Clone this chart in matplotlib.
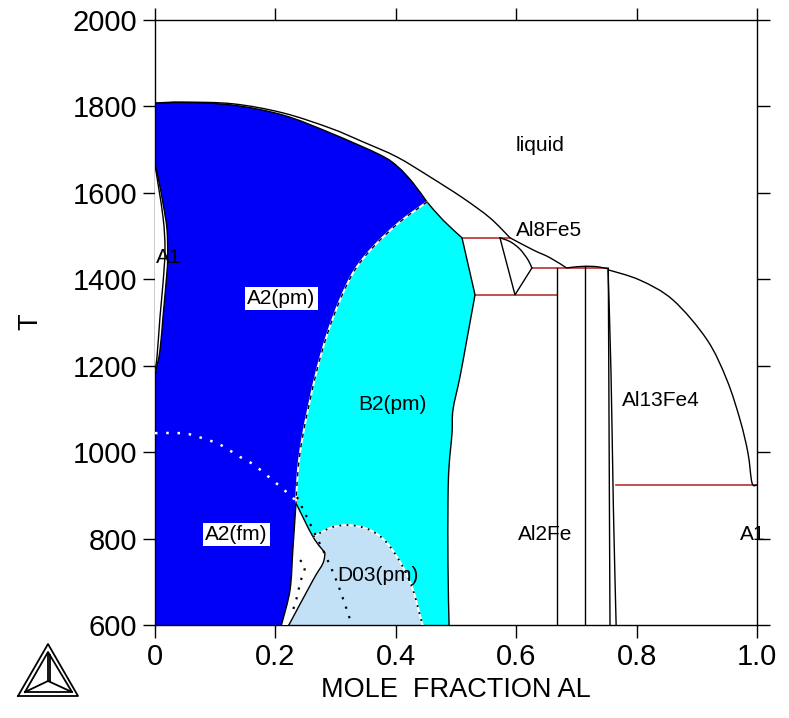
import matplotlib
matplotlib.use('Agg')
import matplotlib.pyplot as plt
from matplotlib.lines import Line2D
from matplotlib.path import Path
from matplotlib.patches import PathPatch

plt.rcParams['font.family'] = ['Liberation Sans', 'DejaVu Sans']

# ---------------- data (mole fraction Al, T in K) ----------------
liq_x = [0, 0.0465, 0.1296, 0.2126, 0.2907, 0.3455, 0.402, 0.4568, 0.5116, 0.5565, 0.5897]
liq_T = [1808, 1810, 1806, 1785, 1750, 1718, 1683, 1637, 1588, 1542, 1496]
sol_x = [0, 0.0465, 0.1296, 0.2126, 0.2907, 0.3738, 0.4037, 0.4286, 0.4518]
sol_T = [1807, 1809, 1803, 1780, 1739, 1688, 1660, 1623, 1579]
b2sol_x = [0.4518, 0.4784, 0.51]
b2sol_T = [1579, 1537, 1496]
b2solvA_x = [0.51, 0.5316]
b2solvA_T = [1496, 1364]
b2solvB_x = [0.5316, 0.518, 0.5066, 0.495, 0.4934, 0.4884, 0.4867, 0.4867, 0.4884, 0.4887]
b2solvB_T = [1364, 1260, 1174, 1098, 1044, 966, 889, 734, 605, 600]
order_x = [0.4518, 0.407, 0.3654, 0.3322, 0.3073, 0.2857, 0.269, 0.2558, 0.2442, 0.2375, 0.2342]
order_T = [1579, 1533, 1479, 1422, 1352, 1271, 1190, 1109, 1028, 959, 882]
lensL_x = [0.2342, 0.229, 0.2243, 0.211, 0.2095]
lensL_T = [882, 774, 681, 605, 600]
lensRa_x = [0.2342, 0.2625, 0.2824]
lensRa_T = [882, 804, 767]
lensRb_x = [0.2824, 0.279, 0.2625, 0.2243, 0.222]
lensRb_T = [767, 743, 704, 605, 600]
d03_x = [0.2625, 0.274, 0.2957, 0.324, 0.357, 0.3854, 0.412, 0.4286, 0.4435, 0.445]
d03_T = [804, 813, 827, 831, 820, 790, 734, 681, 605, 600]
curie_x = [0, 0.0415, 0.0615, 0.083, 0.103, 0.123, 0.141, 0.1595, 0.1777, 0.1944, 0.211, 0.2276, 0.2342]
curie_T = [1044, 1044, 1040, 1030, 1021, 1005, 989, 975, 956, 936, 917, 896, 888]
curie2_x = [0.2359, 0.271, 0.2907, 0.3073, 0.327]
curie2_T = [896, 796, 738, 681, 600]
curie3_x = [0.2409, 0.249, 0.2409, 0.2359, 0.2276]
curie3_T = [750, 734, 697, 665, 628]
gout_x = [0, 0.006, 0.014, 0.020, 0.021, 0.0183, 0.0133, 0.0083, 0.0017, 0]
gout_T = [1665, 1630, 1570, 1514, 1445, 1391, 1313, 1236, 1190, 1185]
gin_x = [0, 0.0133, 0.0166, 0.0133, 0.0083, 0.0033, 0]
gin_T = [1665, 1544, 1468, 1391, 1313, 1220, 1190]
al8_liq_x = [0.5897, 0.628, 0.656, 0.684]
al8_liq_T = [1496, 1468, 1450, 1426]
al8c_x = [0.573, 0.59, 0.606, 0.6196, 0.626]
al8c_T = [1496, 1487, 1470, 1445, 1426]
al8s_x = [0.626, 0.598, 0.573]
al8s_T = [1426, 1364, 1496]
hump_x = [0.684, 0.694, 0.714, 0.735, 0.7525]
hump_T = [1426, 1428, 1430, 1429, 1424]
al_liq_x = [0.7525, 0.8056, 0.8605, 0.917, 0.950, 0.972, 0.985, 0.9917, 1.0]
al_liq_T = [1422, 1398, 1352, 1260, 1167, 1074, 998, 929, 924]
al2fe_x = [0.668, 0.7143]
al2fe_top = [1426, 1430]
a13L_x = [0.753, 0.7558]
a13L_T = [1425, 600]
a13R_x = [0.7525, 0.7575, 0.7614, 0.766]
a13R_T = [1422, 1183, 873, 600]
tie_T = [1496, 1426, 1364, 924]
tie_x0 = [0.51, 0.626, 0.5316, 0.765]
tie_x1 = [0.5897, 0.7525, 0.668, 1.0]

labels = [("liquid", 0.64, 1710, False), ("Al8Fe5", 0.655, 1513, False),
          ("A2(pm)", 0.21, 1355, True), ("A1", 0.022, 1450, False),
          ("B2(pm)", 0.395, 1110, False), ("A2(fm)", 0.135, 810, True),
          ("D03(pm)", 0.37, 715, False), ("Al2Fe", 0.648, 810, False),
          ("Al13Fe4", 0.84, 1120, False), ("A1", 0.993, 810, False)]
xticks = [0, 0.2, 0.4, 0.6, 0.8, 1.0]
xticklabels = ["0", "0.2", "0.4", "0.6", "0.8", "1.0"]
yticks = [600, 800, 1000, 1200, 1400, 1600, 1800, 2000]

BLUE = '#0000F8'
CYAN = '#00FFFF'
LBLUE = '#C2E1F7'
RED = '#B83232'


def seg(xs, ys, rev=False):
    """Smooth (Catmull-Rom as cubic Bezier) path pieces through the read points."""
    pts = list(zip(xs, ys))
    if rev:
        pts = pts[::-1]
    verts, codes = [], []
    n = len(pts)
    for i in range(n - 1):
        p0 = pts[max(i - 1, 0)]
        p1 = pts[i]
        p2 = pts[i + 1]
        p3 = pts[min(i + 2, n - 1)]
        c1 = (p1[0] + (p2[0] - p0[0]) / 6, p1[1] + (p2[1] - p0[1]) / 6)
        c2 = (p2[0] - (p3[0] - p1[0]) / 6, p2[1] - (p3[1] - p1[1]) / 6)
        verts += [c1, c2, p2]
        codes += [Path.CURVE4] * 3
    return pts[0], verts, codes


def build(pieces, close=False):
    verts, codes = [], []
    for k, pc in enumerate(pieces):
        start, v, c = seg(*pc)
        verts.append(start)
        codes.append(Path.MOVETO if k == 0 else Path.LINETO)
        verts += v
        codes += c
    if close:
        verts.append(verts[0])
        codes.append(Path.CLOSEPOLY)
    return Path(verts, codes)


fig = plt.figure(figsize=(7.89, 7.18), dpi=100)
ax = fig.add_axes([155/789, 93/718, 602/789, 605/718])
ax.set_xlim(0, 1)
ax.set_ylim(600, 2000)


def fill(pieces, color, z):
    ax.add_patch(PathPatch(build(pieces, True), fc=color, ec='none', lw=0, zorder=z))


def line(xs, ys, color='black', lw=1.0, ls='-', z=5):
    ax.add_patch(PathPatch(build([(xs, ys)]), fc='none', ec=color, lw=lw, ls=ls, zorder=z,
                           capstyle='butt'))


# cyan B2 region
fill([(order_x, order_T), (lensRa_x, lensRa_T), (lensRb_x, lensRb_T),
      (b2solvB_x, b2solvB_T, True), (b2solvA_x, b2solvA_T, True),
      (b2sol_x, b2sol_T, True)], CYAN, 1)
# D03 region
fill([(d03_x, d03_T), (lensRb_x, lensRb_T, True), ([0.2824, 0.2625], [767, 804])], LBLUE, 2)
# blue A2 region
fill([([0, 0], [600, 1807]), (sol_x, sol_T), (order_x, order_T), (lensL_x, lensL_T)], BLUE, 2)
# white two-phase lens
fill([(lensL_x, lensL_T), (lensRb_x, lensRb_T, True), (lensRa_x, lensRa_T, True)], 'white', 3)
# gamma loop
fill([(gout_x, gout_T)], 'white', 3)

for xs, ys in [(gout_x, gout_T), (gin_x, gin_T), (liq_x, liq_T), (sol_x, sol_T),
               (b2sol_x, b2sol_T), (b2solvA_x, b2solvA_T), (b2solvB_x, b2solvB_T),
               (lensL_x, lensL_T), (lensRa_x, lensRa_T), (lensRb_x, lensRb_T),
               (al8_liq_x, al8_liq_T), (al8c_x, al8c_T), (hump_x, hump_T),
               (al_liq_x, al_liq_T), (a13R_x, a13R_T)]:
    line(xs, ys)
ax.plot(al8s_x, al8s_T, color='black', lw=1.0, zorder=5)
for xv, tt in zip(al2fe_x, al2fe_top):
    ax.plot([xv, xv], [600, tt], color='black', lw=1.0, zorder=5)
ax.plot(a13L_x, a13L_T, color='black', lw=1.0, zorder=5)
for t, x0, x1 in zip(tie_T, tie_x0, tie_x1):
    ax.plot([x0, x1], [t, t], color=RED, lw=1.2, zorder=4)

# order / magnetic lines
line(order_x, order_T, color='white', lw=1.4, z=5)
line(order_x, order_T, color='black', lw=1.0, ls=(0, (3, 4)), z=6)
line(d03_x, d03_T, color='white', lw=1.4, z=5)
line(d03_x, d03_T, color='black', lw=1.3, ls=(0, (1, 3)), z=6)
line(curie_x, curie_T, color='white', lw=1.8, ls=(0, (1, 3.5)), z=6)
line(curie2_x, curie2_T, color='black', lw=1.6, ls=(0, (1, 3.5)), z=6)
line(curie3_x, curie3_T, color='black', lw=1.6, ls=(0, (1, 3.5)), z=6)

for txt, x, y, box in labels:
    kw = {}
    if box:
        kw['bbox'] = dict(boxstyle='square,pad=0.1', fc='white', ec='none')
    ax.text(x, y, txt, ha='center', va='center', fontsize=15, zorder=8, **kw)

ax.set_xticks(xticks)
ax.set_xticklabels(xticklabels)
ax.set_yticks(yticks)
ax.tick_params(direction='out', length=9, width=1.0, labelsize=21, pad=4,
               top=True, right=True, labeltop=False, labelright=False)
for s in ax.spines.values():
    s.set_linewidth(1.0)

fig.text(456/789, 1 - 690/718, "MOLE  FRACTION AL", ha='center', va='center', fontsize=19.5)
fig.text(30/789, 1 - 322/718, "T", ha='center', va='center', fontsize=19.5, rotation=90)


# Thermo-Calc logo (figure pixel coordinates)
def fl(xs, ys, lw=1.3):
    fig.add_artist(Line2D([v/789 for v in xs], [1 - v/718 for v in ys],
                          color='black', lw=lw, transform=fig.transFigure))


fl([18, 78, 48, 18], [696, 696, 644, 696])
fl([25, 72, 48, 25], [692, 692, 652, 692])
fl([48, 48], [653, 681])
fl([50, 50], [655, 681])
fl([25, 48, 72], [692, 681, 692])

fig.savefig('out.png', dpi=100, facecolor='white')
